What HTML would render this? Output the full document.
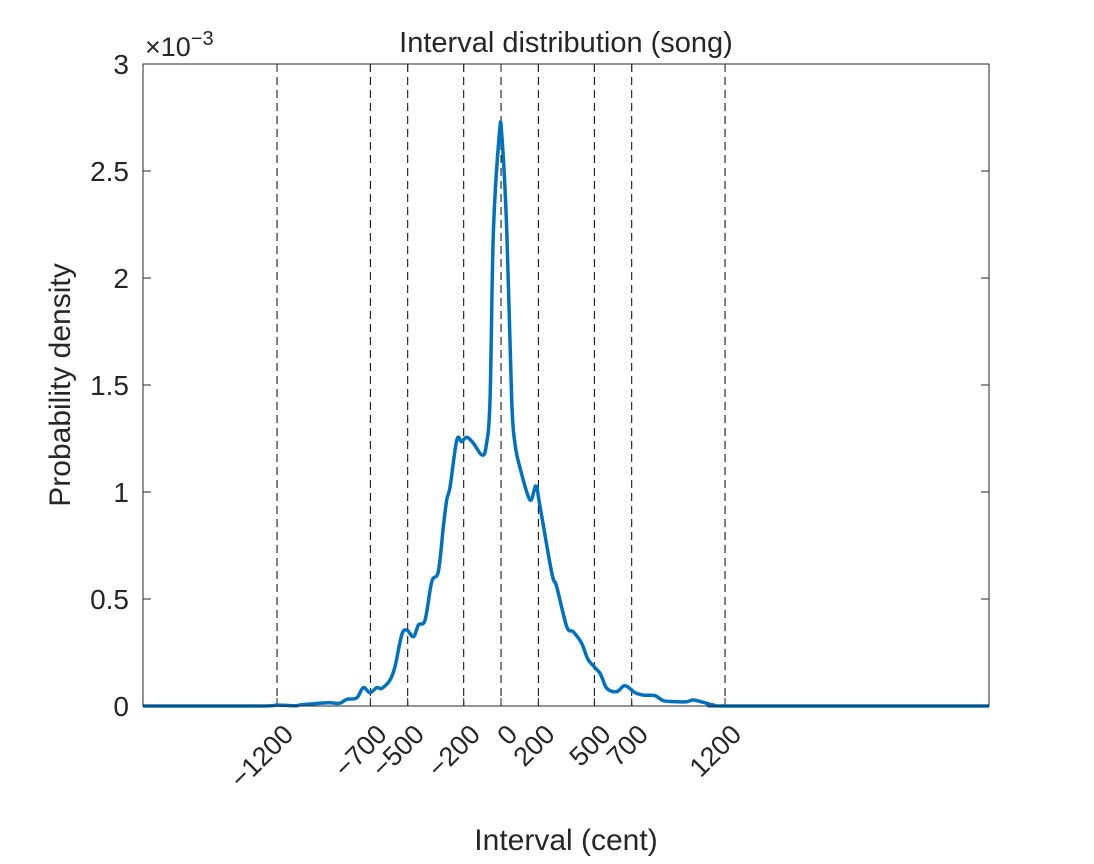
<!DOCTYPE html>
<html><head><meta charset="utf-8"><style>
html,body{margin:0;padding:0;background:#fff;}
svg text{font-family:"Liberation Sans","Noto Sans CJK JP",sans-serif;fill:#262626;}
</style></head><body>
<svg id="chart" width="1094" height="859" viewBox="0 0 1094 859" xmlns="http://www.w3.org/2000/svg">
<rect x="0" y="0" width="1094" height="859" fill="#fff"/>
<g id="grid"></g>
<g id="ticks"></g>
<path id="curve" fill="none" stroke="#0072BD" stroke-width="3.5" stroke-linejoin="round"/>
<rect x="143" y="64" width="846" height="642" fill="none" stroke="#262626" stroke-width="1"/>
<text x="566" y="52" font-size="29" text-anchor="middle">Interval distribution (song)</text>
<text x="145" y="56" font-size="27">×10<tspan dy="-11" font-size="20">−3</tspan></text>
<text x="566" y="850" font-size="30" text-anchor="middle">Interval (cent)</text>
<text transform="translate(70,385) rotate(-90)" font-size="30" text-anchor="middle">Probability density</text>
</svg>
<script>
const xTicks = [-1200,-700,-500,-200,0,200,500,700,1200];
const yTicks = [0,0.5,1,1.5,2,2.5,3];
const yTickLabels = ["0","0.5","1","1.5","2","2.5","3"];
const xCents = [-1918,-1300,-1200,-1100,-1077,-970,-916,-863,-827,-773,-738,-702,-666,-639,-595,-568,-532,-505,-469,-442,-407,-371,-336,-309,-291,-273,-237,-211,-184,-148,-103,-80,-59,-41,-9,4,31,57,75,102,155,187,209,272,298,352,387,432,468,530,566,620,664,718,762,825,870,941,995,1030,1084,1137,1250,2614];
const density = [0,0,0.004,0.001,0.005,0.013,0.015,0.013,0.031,0.038,0.086,0.062,0.086,0.082,0.121,0.184,0.332,0.355,0.324,0.379,0.402,0.581,0.628,0.838,0.963,1.025,1.243,1.235,1.256,1.228,1.173,1.212,1.430,2.215,2.675,2.670,2.215,1.430,1.224,1.112,0.963,1.028,0.932,0.621,0.558,0.371,0.347,0.293,0.215,0.153,0.083,0.067,0.095,0.062,0.051,0.048,0.025,0.020,0.020,0.028,0.017,0.005,0,0];

const X0=143,X1=989,Y0=706,Y1=64;
const xMin=-1918,xMax=2614,yMin=0,yMax=3;
const sx=v=>X0+(v-xMin)/(xMax-xMin)*(X1-X0);
const sy=v=>Y0-(v-yMin)/(yMax-yMin)*(Y0-Y1);
const NS="http://www.w3.org/2000/svg";
const grid=document.getElementById('grid'), ticks=document.getElementById('ticks');
function mk(tag,attrs,parent){const e=document.createElementNS(NS,tag);for(const k in attrs)e.setAttribute(k,attrs[k]);parent.appendChild(e);return e;}
xTicks.forEach(v=>{
  const x=sx(v);
  const l=mk('line',{x1:x,x2:x,y1:Y1,y2:Y0,stroke:'#000','stroke-width':1,'stroke-dasharray':'8,5'},grid);
  
  
  mk('line',{x1:x,x2:x,y1:Y0,y2:Y0-8,stroke:'#262626'},ticks);
  mk('line',{x1:x,x2:x,y1:Y1,y2:Y1+8,stroke:'#262626'},ticks);
  const t=mk('text',{x:0,y:0,'font-size':27,'text-anchor':'end',transform:`translate(${x+18},${Y0+30}) rotate(-45)`},ticks);
  t.textContent=(v<0?'−'+Math.abs(v):String(v));
  
  
});
yTicks.forEach((v,i)=>{
  const y=sy(v);
  mk('line',{x1:X0,x2:X0+8,y1:y,y2:y,stroke:'#262626'},ticks);
  mk('line',{x1:X1,x2:X1-8,y1:y,y2:y,stroke:'#262626'},ticks);
  const t=mk('text',{x:129,y:y+10,'font-size':28,'text-anchor':'end'},ticks);
  t.textContent=yTickLabels[i];
  
  
});
const P=xCents.map((c,i)=>[sx(c),sy(density[i])]);
let d='M'+P[0][0].toFixed(2)+','+P[0][1].toFixed(2);
for(let i=0;i<P.length-1;i++){
  const p0=P[Math.max(0,i-1)],p1=P[i],p2=P[i+1],p3=P[Math.min(P.length-1,i+2)];
  const k=1/6;
  let c1x=p1[0]+(p2[0]-p0[0])*k,c1y=p1[1]+(p2[1]-p0[1])*k;
  let c2x=p2[0]-(p3[0]-p1[0])*k,c2y=p2[1]-(p3[1]-p1[1])*k;
  c1y=Math.min(c1y,Y0);c2y=Math.min(c2y,Y0);
  d+=`C${c1x.toFixed(2)},${c1y.toFixed(2)} ${c2x.toFixed(2)},${c2y.toFixed(2)} ${p2[0].toFixed(2)},${p2[1].toFixed(2)}`;
}
document.getElementById('curve').setAttribute('d',d);
</script>
</body></html>
